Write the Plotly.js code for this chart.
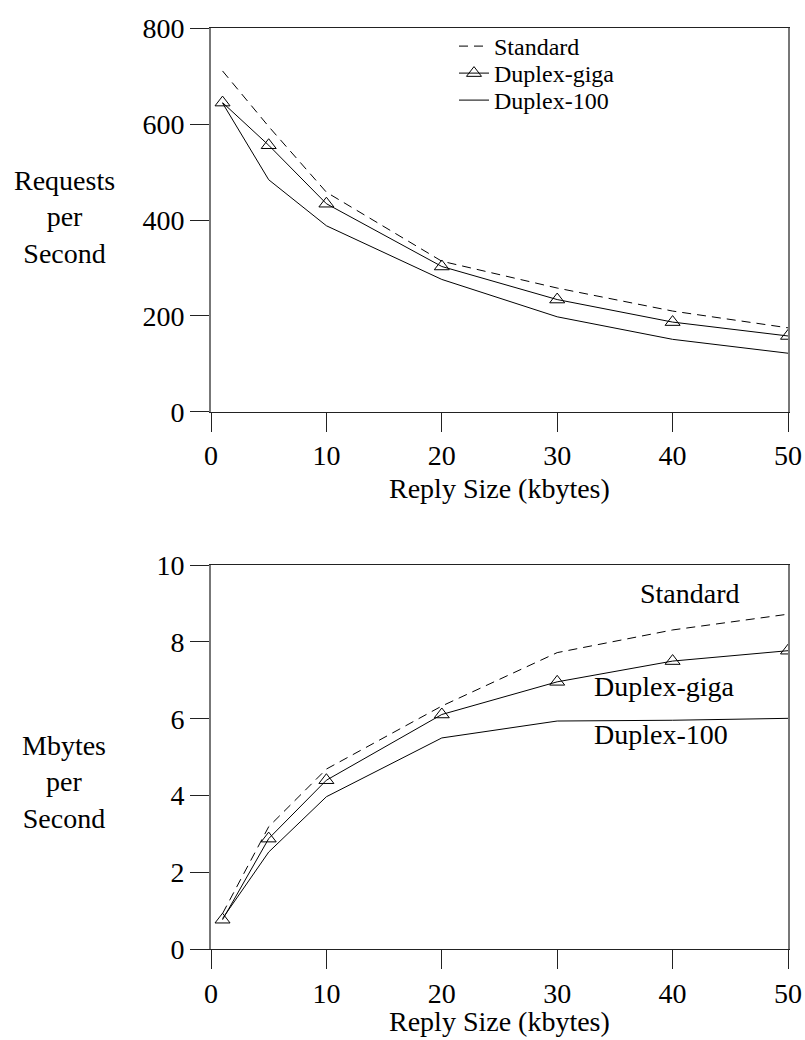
<!DOCTYPE html>
<html>
<head>
<meta charset="utf-8">
<script src="https://cdn.plot.ly/plotly-3.0.1.min.js"></script>
<style>html,body{margin:0;padding:0;background:#fff;}#chart{width:805px;height:1040px;}</style>
</head>
<body>
<div id="chart"></div>
<script>
// Data
var replySize = [1, 5, 10, 20, 30, 40, 50];

// Top panel: Requests per Second
var reqStandard   = [711, 595, 458, 314, 258, 210, 175];
var reqDuplexGiga = [645, 556, 434, 303, 234, 187, 158];
var reqDuplex100  = [644, 484, 388, 276, 198, 151, 122];

// Bottom panel: Mbytes per Second
var mbStandard   = [0.93, 3.19, 4.69, 6.33, 7.72, 8.31, 8.72];
var mbDuplexGiga = [0.77, 2.88, 4.40, 6.11, 6.96, 7.50, 7.77];
var mbDuplex100  = [0.80, 2.53, 3.97, 5.50, 5.94, 5.96, 6.01];

var seriesNames = ["Standard", "Duplex-giga", "Duplex-100"];
var xTicks = [0, 10, 20, 30, 40, 50];
var reqTicks = [0, 200, 400, 600, 800];
var mbTicks = [0, 2, 4, 6, 8, 10];
var xTitle = "Reply Size (kbytes)";
var reqTitle = "Requests<br>per<br>Second";
var mbTitle = "Mbytes<br>per<br>Second";

var FONT = "Liberation Serif";
var FS = 28;
var W = 805, H = 1040;
function fx(px) { return px / W; }
function fy(px) { return 1 - px / H; }
function f(size) { return {family: FONT, size: size, color: "#000"}; }

var dashStyle = {color: "#000", width: 1, dash: "9px,6px"};
var solidStyle = {color: "#000", width: 1};
var markerStyle = {symbol: "triangle-up-open", size: 13, color: "#000", line: {color: "#000", width: 1}};

var traces = [
  {x: replySize, y: reqStandard, name: seriesNames[0], mode: "lines", line: dashStyle, xaxis: "x", yaxis: "y", legend: "legend"},
  {x: replySize, y: reqDuplexGiga, name: seriesNames[1], mode: "lines+markers", line: solidStyle, marker: markerStyle, xaxis: "x", yaxis: "y", legend: "legend2"},
  {x: replySize, y: reqDuplex100, name: seriesNames[2], mode: "lines", line: solidStyle, xaxis: "x", yaxis: "y", legend: "legend3"},
  {x: replySize, y: mbStandard, name: seriesNames[0], mode: "lines", line: dashStyle, xaxis: "x2", yaxis: "y2", showlegend: false},
  {x: replySize, y: mbDuplexGiga, name: seriesNames[1], mode: "lines+markers", line: solidStyle, marker: markerStyle, xaxis: "x2", yaxis: "y2", showlegend: false},
  {x: replySize, y: mbDuplex100, name: seriesNames[2], mode: "lines", line: solidStyle, xaxis: "x2", yaxis: "y2", showlegend: false}
];

function xAxis(anchor, dom) {
  return {
    domain: dom, anchor: anchor, range: [0, 50], tickvals: xTicks,
    ticks: "outside", ticklen: 19, tickwidth: 1, tickcolor: "#222",
    showline: true, linecolor: "#222", linewidth: 1, mirror: true,
    showgrid: false, zeroline: false,
    tickfont: f(FS)
  };
}
function yAxis(anchor, dom, range, ticks) {
  return {
    domain: dom, anchor: anchor, range: range, tickvals: ticks,
    ticks: "outside", ticklen: 19, tickwidth: 1, tickcolor: "#222",
    showline: true, linecolor: "#777", linewidth: 2, mirror: true,
    showgrid: false, zeroline: false,
    tickfont: f(FS)
  };
}
function legendAt(topPx) {
  return {
    x: fx(454), y: fy(topPx), xanchor: "left", yanchor: "top",
    bgcolor: "rgba(0,0,0,0)", borderwidth: 0, font: f(24), itemwidth: 30
  };
}

var xdom = [fx(211), fx(788)];
var layout = {
  width: W, height: H,
  margin: {l: 0, r: 0, t: 0, b: 0},
  paper_bgcolor: "#fff", plot_bgcolor: "#fff",
  font: {family: FONT, color: "#000"},
  showlegend: true,
  legend: legendAt(24),
  legend2: legendAt(51),
  legend3: legendAt(78),
  xaxis: xAxis("y", xdom),
  yaxis: yAxis("x", [fy(411.7), fy(28.3)], [0, 800], reqTicks),
  xaxis2: xAxis("y2", xdom),
  yaxis2: yAxis("x2", [fy(949.3), fy(565)], [0, 10], mbTicks),
  annotations: [
    {xref: "paper", yref: "paper", x: fx(500), y: fy(488), xanchor: "center", yanchor: "middle",
     text: xTitle, showarrow: false, font: f(FS)},
    {xref: "paper", yref: "paper", x: fx(500), y: fy(1021), xanchor: "center", yanchor: "middle",
     text: xTitle, showarrow: false, font: f(FS)},
    {xref: "paper", yref: "paper", x: fx(64), y: fy(217), xanchor: "center", yanchor: "middle",
     text: reqTitle, showarrow: false, align: "center", font: f(FS)},
    {xref: "paper", yref: "paper", x: fx(64), y: fy(782), xanchor: "center", yanchor: "middle",
     text: mbTitle, showarrow: false, align: "center", font: f(FS)},
    {xref: "x2", yref: "y2", x: 37.0, y: 9.27, xanchor: "left", yanchor: "middle",
     text: seriesNames[0], showarrow: false, font: f(FS)},
    {xref: "x2", yref: "y2", x: 33.0, y: 6.85, xanchor: "left", yanchor: "middle",
     text: seriesNames[1], showarrow: false, font: f(FS)},
    {xref: "x2", yref: "y2", x: 33.0, y: 5.58, xanchor: "left", yanchor: "middle",
     text: seriesNames[2], showarrow: false, font: f(FS)}
  ]
};

Plotly.newPlot("chart", traces, layout, {displayModeBar: false, staticPlot: true});
</script>
</body>
</html>
